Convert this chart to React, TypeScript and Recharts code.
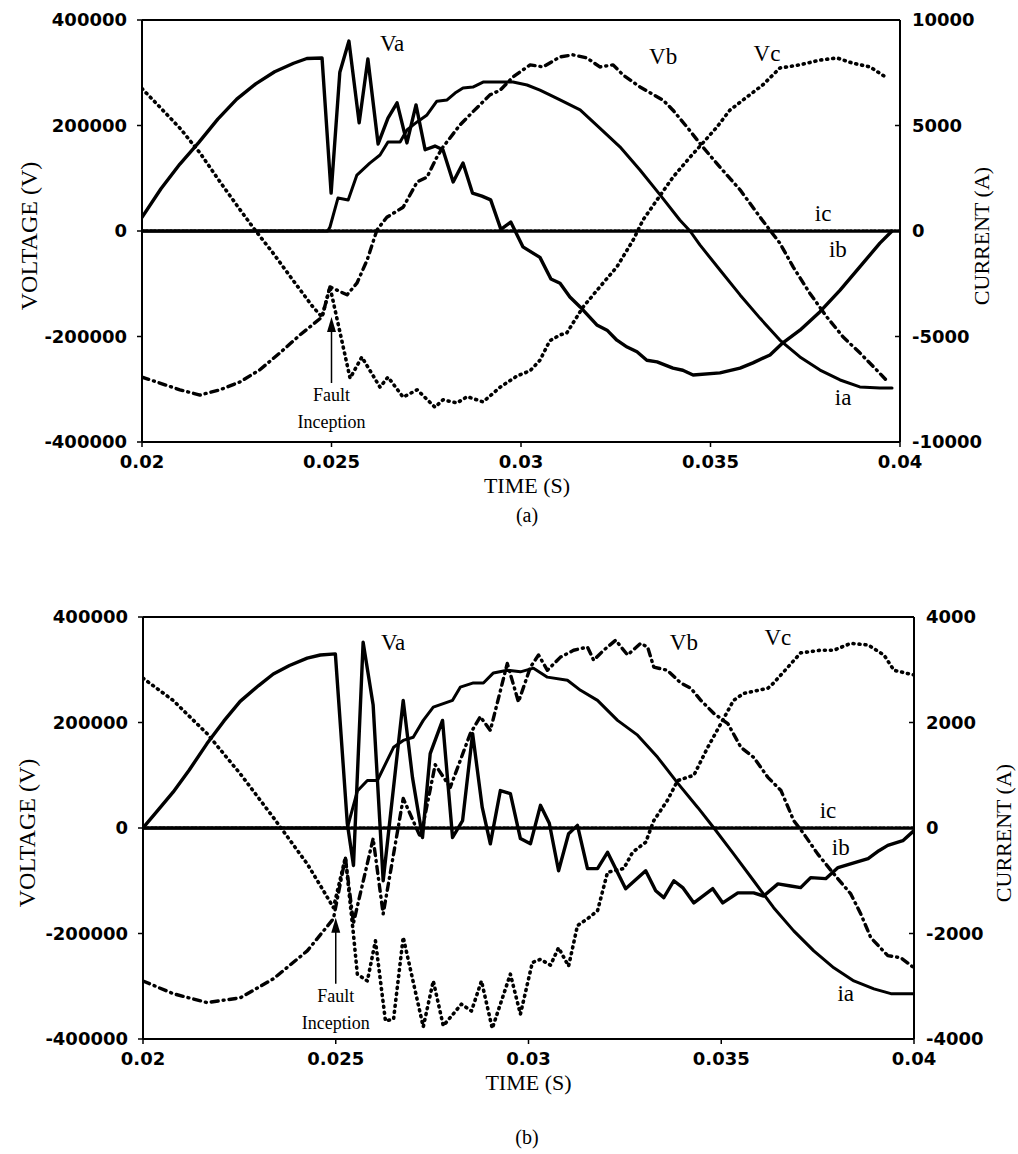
import React from 'react';
import { LineChart, Line, XAxis, YAxis, ReferenceDot, ReferenceLine } from 'recharts';

type Pt = [number, number];

const timeTicks = [0.02, 0.025, 0.03, 0.035, 0.04];
const voltTicks = [-400000, -200000, 0, 200000, 400000];
const voltMinor = [-300000, -100000, 100000, 300000];
const curTicksA = [-10000, -5000, 0, 5000, 10000];
const curMinorA = [-7500, -2500, 2500, 7500];
const curTicksB = [-4000, -2000, 0, 2000, 4000];
const curMinorB = [-3000, -1000, 1000, 3000];

// ---- (a) voltages (V) ----
const aVa: Pt[] = [
  [0.02, 26000], [0.0205, 80000], [0.021, 127000], [0.0215, 168000], [0.022, 212000],
  [0.0225, 250000], [0.023, 279000], [0.0235, 302000], [0.024, 318000], [0.02435, 327000],
  [0.02475, 328000], [0.02499, 72000], [0.02522, 301000], [0.02546, 360000], [0.02573, 205000],
  [0.02596, 326000], [0.02623, 165000], [0.02649, 214000], [0.02673, 243000], [0.02699, 167000],
  [0.02723, 239000], [0.02747, 154000], [0.02773, 161000], [0.02794, 154000], [0.02821, 93000],
  [0.02847, 129000], [0.02872, 72000], [0.02897, 66000], [0.0292, 59000], [0.02947, 3000],
  [0.02973, 17000], [0.02992, -11000], [0.03005, -30000], [0.0305, -50000], [0.03079, -91000],
  [0.03103, -99000], [0.03129, -125000], [0.03156, -144000], [0.032, -178000], [0.03227, -188000],
  [0.03253, -207000], [0.0328, -220000], [0.03306, -229000], [0.03332, -245000], [0.03359, -248000],
  [0.03401, -260000], [0.03427, -264000], [0.03454, -273000], [0.03525, -269000], [0.03578, -260000],
  [0.03612, -250000], [0.03657, -235000], [0.03691, -212000], [0.03736, -188000], [0.03789, -153000],
  [0.03842, -112000], [0.03894, -68000], [0.03947, -23000], [0.03979, 0],
];
const aVb: Pt[] = [
  [0.02, -277000], [0.021, -301000], [0.02153, -311000], [0.02206, -301000], [0.02259, -286000],
  [0.02311, -263000], [0.02364, -231000], [0.02417, -197000], [0.02475, -163000], [0.02496, -106000],
  [0.02541, -121000], [0.02567, -99000], [0.02594, -55000], [0.0262, 2000], [0.02646, 26000],
  [0.02689, 45000], [0.02726, 93000], [0.02752, 102000], [0.02778, 140000], [0.02794, 159000],
  [0.02839, 201000], [0.02873, 226000], [0.02918, 258000], [0.02945, 267000], [0.02979, 292000],
  [0.03024, 315000], [0.03058, 311000], [0.03103, 330000], [0.03137, 334000], [0.03174, 328000],
  [0.03208, 311000], [0.03243, 315000], [0.03269, 296000], [0.03314, 273000], [0.03375, 248000],
  [0.03401, 229000], [0.03438, 197000], [0.0348, 159000], [0.03525, 121000], [0.03578, 78000],
  [0.03631, 26000], [0.03683, -23000], [0.03718, -68000], [0.03762, -118000], [0.03807, -163000],
  [0.0385, -201000], [0.03894, -231000], [0.03939, -264000], [0.03968, -286000],
];
const aVc: Pt[] = [
  [0.02, 270000], [0.02047, 235000], [0.021, 195000], [0.02153, 148000], [0.02206, 93000],
  [0.02259, 40000], [0.02298, 2000], [0.02346, -42000], [0.02398, -93000], [0.02451, -144000],
  [0.02475, -163000], [0.02496, -106000], [0.02549, -279000], [0.0258, -239000], [0.02628, -296000],
  [0.02649, -277000], [0.02689, -315000], [0.02726, -301000], [0.02773, -334000], [0.02794, -320000],
  [0.02831, -326000], [0.02858, -314000], [0.029, -324000], [0.02945, -296000], [0.02989, -275000],
  [0.03024, -265000], [0.0305, -245000], [0.03076, -208000], [0.03103, -197000], [0.03121, -193000],
  [0.03164, -144000], [0.03208, -106000], [0.03253, -68000], [0.03296, -17000], [0.03322, 21000],
  [0.03359, 59000], [0.03401, 102000], [0.03446, 140000], [0.0348, 167000], [0.03517, 197000],
  [0.03551, 229000], [0.03596, 254000], [0.03638, 277000], [0.03683, 309000], [0.03736, 315000],
  [0.03789, 324000], [0.03834, 328000], [0.03876, 318000], [0.03921, 311000], [0.03966, 290000],
];
// ---- (a) currents (A) ----
const aIa: Pt[] = [
  [0.02, 0], [0.0249, 0], [0.02496, 190], [0.02517, 1560], [0.02544, 1470], [0.02567, 2650],
  [0.02601, 3220], [0.02628, 3600], [0.02649, 4220], [0.02681, 4220], [0.02699, 4790],
  [0.02726, 5170], [0.02752, 5500], [0.02778, 6150], [0.02805, 6210], [0.02826, 6540],
  [0.02847, 6780], [0.02873, 6820], [0.029, 7060], [0.02937, 7060], [0.02979, 7060],
  [0.03016, 6920], [0.0305, 6680], [0.03076, 6450], [0.03103, 6210], [0.03156, 5740],
  [0.03208, 4880], [0.03261, 3990], [0.03314, 2890], [0.03367, 1710], [0.03419, 520],
  [0.03446, 0], [0.03472, -660], [0.03525, -1850], [0.03578, -3030], [0.03631, -4140],
  [0.03683, -5170], [0.03736, -5970], [0.03789, -6590], [0.03842, -7060], [0.03894, -7390],
  [0.03947, -7440], [0.03979, -7440],
];
const aIb: Pt[] = [[0.02, 0], [0.025, 0], [0.03, 0], [0.035, 0], [0.04, 0]];
const aIc: Pt[] = [[0.02, 0], [0.025, 0], [0.03, 0], [0.035, 0], [0.04, 0]];

// ---- (b) voltages (V) ----
const bVa: Pt[] = [
  [0.02, 0], [0.0204, 35000], [0.02078, 68000], [0.0212, 110000], [0.02166, 160000],
  [0.0221, 203000], [0.02252, 240000], [0.023, 270000], [0.02338, 292000], [0.0238, 308000],
  [0.02426, 322000], [0.0246, 328000], [0.02499, 330000], [0.0253, 8500], [0.02546, -71000],
  [0.02571, 352000], [0.02597, 233000], [0.02623, -100000], [0.02675, 242000], [0.02699, 96000],
  [0.02725, -18000], [0.02745, 141000], [0.02777, 204000], [0.02803, -18000], [0.02829, 14000],
  [0.02855, 179000], [0.0288, 39000], [0.02901, -30000], [0.02927, 71000], [0.02953, 65000],
  [0.02979, -20000], [0.03005, -30000], [0.03031, 43000], [0.03054, 9000], [0.03078, -81000],
  [0.03104, -11000], [0.03127, 5000], [0.03153, -77000], [0.03179, -77000], [0.03205, -46000],
  [0.03252, -115000], [0.03304, -81000], [0.0333, -119000], [0.03351, -132000], [0.03377, -100000],
  [0.034, -113000], [0.03429, -142000], [0.03478, -115000], [0.03504, -142000], [0.03543, -123000],
  [0.03584, -123000], [0.0361, -129000], [0.03647, -106000], [0.0368, -110000], [0.03706, -113000],
  [0.03732, -94000], [0.03771, -96000], [0.03803, -75000], [0.03844, -66000], [0.03881, -58000],
  [0.03909, -43000], [0.03932, -33000], [0.03971, -24000], [0.04, -5000],
];
const bVb: Pt[] = [
  [0.02, -290000], [0.02078, -314000], [0.02166, -331000], [0.02252, -322000], [0.02338, -286000],
  [0.02426, -233000], [0.02494, -172000], [0.02525, -56000], [0.02546, -180000], [0.02597, -20000],
  [0.02623, -163000], [0.02675, 56000], [0.0272, -18000], [0.02758, 120000], [0.02797, 77000],
  [0.02823, 128000], [0.02849, 179000], [0.02875, 211000], [0.02901, 185000], [0.02945, 312000],
  [0.02974, 239000], [0.03005, 305000], [0.03026, 328000], [0.03049, 299000], [0.03083, 324000],
  [0.03117, 337000], [0.03153, 343000], [0.03169, 318000], [0.03195, 337000], [0.03226, 356000],
  [0.03257, 328000], [0.03291, 350000], [0.03309, 343000], [0.03325, 305000], [0.0336, 299000],
  [0.03395, 275000], [0.03421, 265000], [0.03447, 242000], [0.03481, 217000], [0.03517, 198000],
  [0.03551, 153000], [0.03584, 134000], [0.03621, 96000], [0.03655, 71000], [0.03688, 14000],
  [0.03714, -11000], [0.0375, -49000], [0.03792, -87000], [0.03836, -125000], [0.03862, -163000],
  [0.03888, -208000], [0.03932, -242000], [0.03966, -246000], [0.04, -265000],
];
const bVc: Pt[] = [
  [0.02, 284000], [0.02078, 242000], [0.02166, 179000], [0.02252, 103000], [0.02338, 20000],
  [0.02426, -68000], [0.0246, -109000], [0.02494, -151000], [0.02525, -56000], [0.02546, -202000],
  [0.02556, -277000], [0.02582, -290000], [0.02603, -214000], [0.02629, -366000], [0.0265, -362000],
  [0.02675, -207000], [0.02727, -377000], [0.02753, -290000], [0.02779, -375000], [0.02826, -334000],
  [0.02852, -347000], [0.02878, -290000], [0.02906, -380000], [0.02953, -277000], [0.02979, -353000],
  [0.0301, -255000], [0.03031, -249000], [0.03057, -260000], [0.03078, -227000], [0.03104, -262000],
  [0.03127, -185000], [0.03153, -172000], [0.03179, -157000], [0.03205, -84000], [0.03247, -77000],
  [0.0327, -46000], [0.03304, -27000], [0.03325, 14000], [0.0336, 52000], [0.03387, 90000],
  [0.03429, 100000], [0.03465, 153000], [0.03499, 198000], [0.03532, 242000], [0.03558, 255000],
  [0.03621, 265000], [0.03636, 275000], [0.03673, 305000], [0.03706, 332000], [0.03758, 337000],
  [0.03792, 337000], [0.03836, 350000], [0.03881, 347000], [0.03922, 328000], [0.03948, 299000],
  [0.04, 290000],
];
// ---- (b) currents (A) ----
const bIa: Pt[] = [
  [0.02, 0], [0.0253, 0], [0.02556, 700], [0.02582, 900], [0.02608, 900], [0.0265, 1530],
  [0.02675, 1660], [0.02701, 1720], [0.02727, 2040], [0.02753, 2290], [0.02803, 2420],
  [0.02823, 2670], [0.02857, 2750], [0.02883, 2750], [0.02909, 2940], [0.02945, 2990],
  [0.02979, 2960], [0.03013, 3030], [0.03049, 2860], [0.03101, 2800], [0.03135, 2610],
  [0.03179, 2420], [0.03231, 2040], [0.03283, 1760], [0.03335, 1340], [0.03387, 850],
  [0.03439, 390], [0.03481, 0], [0.03532, -490], [0.03584, -1000], [0.03636, -1510],
  [0.03688, -1950], [0.0374, -2330], [0.03792, -2650], [0.03844, -2900], [0.03896, -3050],
  [0.0394, -3140], [0.04, -3140],
];
const bIb: Pt[] = [[0.02, 0], [0.025, 0], [0.03, 0], [0.035, 0], [0.04, 0]];
const bIc: Pt[] = [[0.02, 0], [0.025, 0], [0.03, 0], [0.035, 0], [0.04, 0]];

// label anchors (time, voltage)
const aTags: [string, number, number][] = [
  ['Va', 0.0266, 356000], ['Vb', 0.03375, 330000], ['Vc', 0.03649, 337000],
  ['ic', 0.03797, 34000], ['ib', 0.03836, -36000], ['ia', 0.0385, -315000],
];
const bTags: [string, number, number][] = [
  ['Va', 0.02649, 352000], ['Vb', 0.03403, 351000], ['Vc', 0.03647, 362000],
  ['ic', 0.03777, 33000], ['ib', 0.0381, -37000], ['ia', 0.03823, -314000],
];

const SERIF = "'Liberation Serif', 'Times New Roman', serif";
const TICK_FONT = { fill: '#000', fontSize: 18, fontFamily: "'DejaVu Sans', sans-serif", fontWeight: 'bold' as const };

const rows = (pts: Pt[]) => pts.map(([t, v]) => ({ t, v }));

const tagShape = (text: string) => (p: any) => (
  <text x={p.cx} y={p.cy} textAnchor="middle" dominantBaseline="central"
    fontFamily={SERIF} fontSize={23} fill="#000">{text}</text>
);

const FaultArrow = (p: any) => {
  const { cx, cy } = p;
  return (
    <g>
      <line x1={cx} y1={cy + 12} x2={cx} y2={cy + 66} stroke="#000" strokeWidth={1.5} />
      <polygon points={`${cx},${cy} ${cx - 4.5},${cy + 15} ${cx + 4.5},${cy + 15}`} fill="#000" />
      <text x={cx} y={cy + 78} textAnchor="middle" dominantBaseline="central" fontFamily={SERIF} fontSize={18} fill="#000">Fault</text>
      <text x={cx} y={cy + 105} textAnchor="middle" dominantBaseline="central" fontFamily={SERIF} fontSize={18} fill="#000">Inception</text>
    </g>
  );
};

interface PanelProps {
  height: number;
  marginTop: number;
  leftW: number;
  rightW: number;
  va: Pt[]; vb: Pt[]; vc: Pt[]; ia: Pt[]; ib: Pt[]; ic: Pt[];
  curDomain: [number, number];
  curTicks: number[];
  curMinor: number[];
  tags: [string, number, number][];
  faultV: number;
  yDx: number;
  rDx: number;
  xDx: number;
}

const Panel: React.FC<PanelProps> = (p) => {
  const common = {
    xAxisId: 't', type: 'linear' as const, dataKey: 'v', stroke: '#000',
    dot: false, activeDot: false, isAnimationActive: false,
    strokeLinecap: 'round' as const, strokeLinejoin: 'round' as const,
  };
  return (
    <LineChart width={1018} height={p.height} margin={{ top: p.marginTop, right: 0, bottom: 0, left: 0 }}>
      <XAxis xAxisId="t" dataKey="t" type="number" domain={[0.02, 0.04]} ticks={timeTicks}
        allowDataOverflow height={58} tickSize={5} tickMargin={8} tick={TICK_FONT}
        axisLine={{ stroke: '#000', strokeWidth: 2 }} tickLine={{ stroke: '#000', strokeWidth: 1.5 }}
        label={{ value: 'TIME (S)', position: 'center', dy: 14, dx: p.xDx, fontSize: 22, fontFamily: SERIF, fill: '#000' }} />
      <YAxis yAxisId="v" orientation="left" type="number" domain={[-400000, 400000]} ticks={voltTicks}
        width={p.leftW} tickSize={5} tickMargin={10} tick={TICK_FONT} interval={0}
        axisLine={{ stroke: '#000', strokeWidth: 2 }} tickLine={{ stroke: '#000', strokeWidth: 1.5 }}
        label={{ value: 'VOLTAGE (V)', angle: -90, position: 'center', dx: p.yDx, dy: 5, fontSize: 24, fontFamily: SERIF, fill: '#000' }} />
      <YAxis yAxisId="vm" orientation="left" type="number" domain={[-400000, 400000]} ticks={voltMinor}
        width={0} mirror tick={false} tickSize={4} axisLine={false} interval={0}
        tickLine={{ stroke: '#000', strokeWidth: 1.2 }} />
      <YAxis yAxisId="i" orientation="right" type="number" domain={p.curDomain} ticks={p.curTicks}
        width={p.rightW} tickSize={-5} tickMargin={17} tick={TICK_FONT} interval={0}
        axisLine={{ stroke: '#000', strokeWidth: 2 }} tickLine={{ stroke: '#000', strokeWidth: 1.5 }}
        label={{ value: 'CURRENT (A)', angle: -90, position: 'center', dx: p.rDx, dy: 5, fontSize: 22, fontFamily: SERIF, fill: '#000' }} />
      <YAxis yAxisId="im" orientation="right" type="number" domain={p.curDomain} ticks={p.curMinor}
        width={0} mirror tick={false} tickSize={4} axisLine={false} interval={0}
        tickLine={{ stroke: '#000', strokeWidth: 1.2 }} />
      <ReferenceLine xAxisId="t" yAxisId="v" y={400000} stroke="#000" strokeWidth={2} />

      <Line {...common} data={rows(p.ib)} yAxisId="i" strokeWidth={3.2} strokeDasharray="2 2" />
      <Line {...common} data={rows(p.ic)} yAxisId="i" strokeWidth={3} strokeDasharray="6 2" />
      <Line {...common} data={rows(p.ia)} yAxisId="i" strokeWidth={3} />
      <Line {...common} data={rows(p.va)} yAxisId="v" strokeWidth={3.4} />
      <Line {...common} data={rows(p.vb)} yAxisId="v" strokeWidth={3.4} strokeDasharray="7 5 1 5" />
      <Line {...common} data={rows(p.vc)} yAxisId="v" strokeWidth={3.6} strokeDasharray="1 5" />

      {p.tags.map(([text, t, v]) => (
        <ReferenceDot key={text} xAxisId="t" yAxisId="v" x={t} y={v} r={0} ifOverflow="visible" shape={tagShape(text)} />
      ))}
      <ReferenceDot xAxisId="t" yAxisId="v" x={0.025} y={p.faultV} r={0} ifOverflow="visible" shape={FaultArrow} />
    </LineChart>
  );
};

const caption: React.CSSProperties = {
  position: 'absolute', left: 0, width: 1054, textAlign: 'center',
  fontFamily: SERIF, fontSize: 20, lineHeight: '24px', color: '#000',
};

export default function App() {
  return (
    <div style={{ position: 'absolute', left: 0, top: 0, width: 1018, height: 1154, background: '#fff', overflow: 'hidden' }}>
      <div style={{ position: 'absolute', left: 0, top: 0 }}>
        <Panel height={500} marginTop={20} leftW={142} rightW={118}
          va={aVa} vb={aVb} vc={aVc} ia={aIa} ib={aIb} ic={aIc}
          curDomain={[-10000, 10000]} curTicks={curTicksA} curMinor={curMinorA}
          tags={aTags} faultV={-163000} yDx={-43} rDx={22} xDx={6} />
      </div>
      <div style={{ ...caption, top: 503 }}>(a)</div>
      <div style={{ position: 'absolute', left: 0, top: 560 }}>
        <Panel height={537} marginTop={57} leftW={143} rightW={104}
          va={bVa} vb={bVb} vc={bVc} ia={bIa} ib={bIb} ic={bIc}
          curDomain={[-4000, 4000]} curTicks={curTicksB} curMinor={curMinorB}
          tags={bTags} faultV={-170000} yDx={-45} rDx={37} xDx={0} />
      </div>
      <div style={{ ...caption, top: 1125 }}>(b)</div>
    </div>
  );
}
